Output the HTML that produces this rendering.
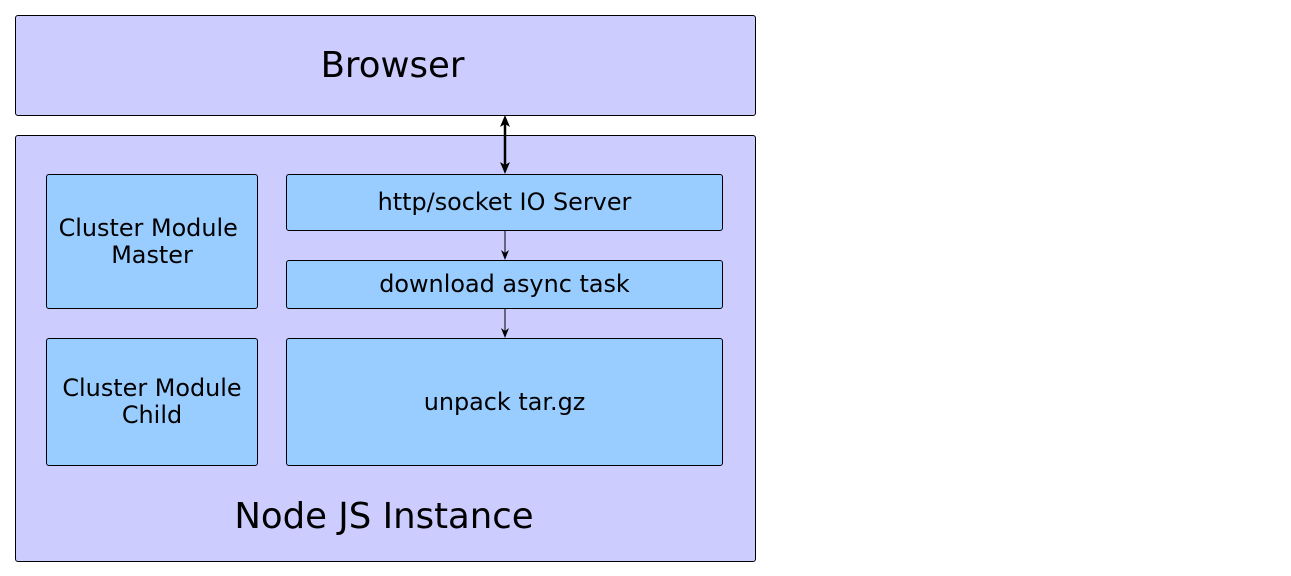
<!DOCTYPE html>
<html><head><meta charset="utf-8"><style>
body{margin:0;width:1291px;height:576px;background:#fff;position:relative;font-family:"DejaVu Sans","Liberation Sans",sans-serif;overflow:hidden}
.b{position:absolute;box-sizing:border-box;border:1px solid #000;border-radius:3px;display:flex;align-items:center;justify-content:center;text-align:center;color:#000}
.o{background:#ccccff}
.i{background:#99ccff;font-size:23.9px;line-height:27px}
</style></head><body>
<div class="b o" style="left:15px;top:15px;width:741px;height:101px;"></div>
<div style="position:absolute;left:22px;top:44px;width:741px;text-align:center;font-size:35.5px;line-height:44px">Browser</div>
<div class="b o" style="left:15px;top:135px;width:741px;height:427px;"></div>
<div style="position:absolute;left:15px;top:495px;width:738px;text-align:center;font-size:35.5px;line-height:44px">Node JS Instance</div>
<div class="b i" style="left:46px;top:174px;width:212px;height:135px;">Cluster Module&nbsp;<br>Master</div>
<div class="b i" style="left:46px;top:338px;width:212px;height:128px;">Cluster Module<br>Child</div>
<div class="b i" style="left:286px;top:174px;width:437px;height:57px;">http/socket IO Server</div>
<div class="b i" style="left:286px;top:260px;width:437px;height:49px;">download async task</div>
<div class="b i" style="left:286px;top:338px;width:437px;height:128px;">unpack tar.gz</div>
<svg style="position:absolute;left:0;top:0" width="1291" height="576">
<line x1="505" y1="120" x2="505" y2="168" stroke="#000" stroke-width="2.5"/>
<polygon points="505,115 500,127 505,124 510,127" fill="#000"/>
<polygon points="505,174 500,162 505,165 510,162" fill="#000"/>
<line x1="505" y1="231" x2="505" y2="256" stroke="#000" stroke-width="1"/>
<polygon points="505,260 501,250 505,253 509,250" fill="#000"/>
<line x1="505" y1="309" x2="505" y2="334" stroke="#000" stroke-width="1"/>
<polygon points="505,338 501,328 505,331 509,328" fill="#000"/>
</svg>
</body></html>
